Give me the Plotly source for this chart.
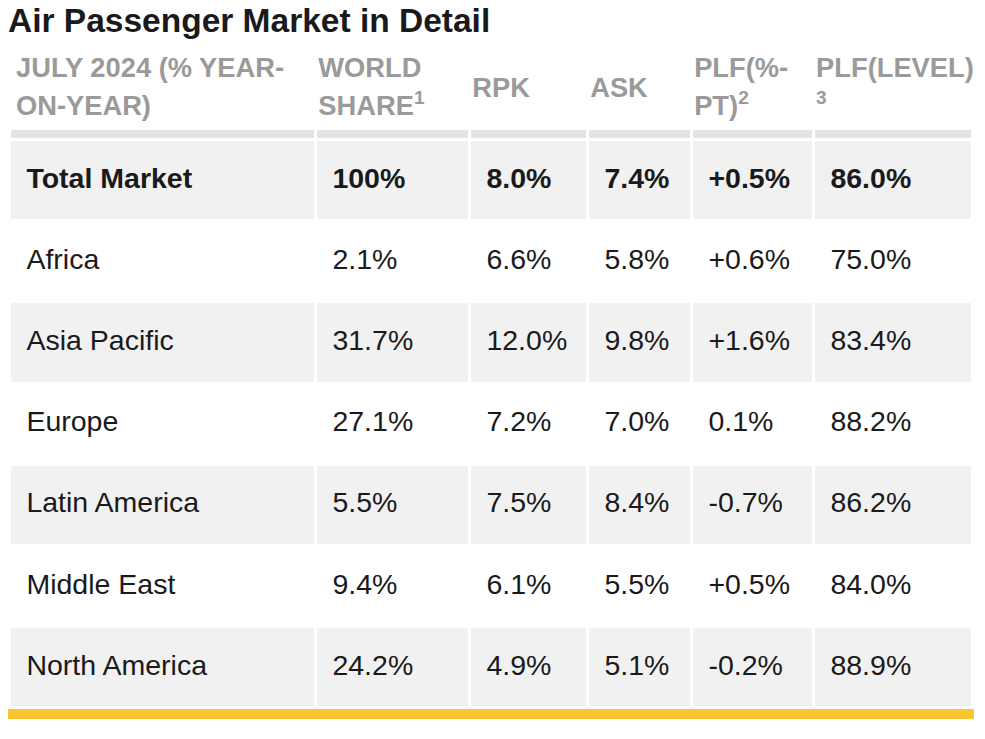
import plotly.graph_objects as go

# ---- data ----
regions = ["Total Market", "Africa", "Asia Pacific", "Europe", "Latin America", "Middle East", "North America"]
world_share = ["100%", "2.1%", "31.7%", "27.1%", "5.5%", "9.4%", "24.2%"]
rpk = ["8.0%", "6.6%", "12.0%", "7.2%", "7.5%", "6.1%", "4.9%"]
ask = ["7.4%", "5.8%", "9.8%", "7.0%", "8.4%", "5.5%", "5.1%"]
plf_pt = ["+0.5%", "+0.6%", "+1.6%", "0.1%", "-0.7%", "+0.5%", "-0.2%"]
plf_level = ["86.0%", "75.0%", "83.4%", "88.2%", "86.2%", "84.0%", "88.9%"]
headers = [
    "JULY 2024 (% YEAR-<br>ON-YEAR)",
    "WORLD<br>SHARE<sup>1</sup>",
    "RPK",
    "ASK",
    "PLF(%-<br>PT)<sup>2</sup>",
    "PLF(LEVEL)<br><sup>3</sup>",
]
title = "Air Passenger Market in Detail"

W, H = 985, 739
OFF = 8  # page body margin
FONT = "Liberation Sans, Arial, sans-serif"
TEXT = "#1a1a1a"
HEAD = "#9a9a9a"
GRAY = "#f1f1f1"
BAND = "#e3e3e3"
YELLOW = "#f9c630"

BODY_SIZE = 28.5
HEAD_SIZE = 27.3

colwidths = [306, 154, 118, 104, 122, 159]
head_colwidths = [302.5, 154, 118, 104, 122, 170]

def px(p):
    return max(0.0, (p - OFF) / W)

def py(p):
    return 1 - (p - OFF) / H

def spacer(sz):
    return f"<span style='font-size:{sz}px'>\u00a0</span><br>"

columns = [regions, world_share, rpk, ask, plf_pt, plf_level]
n = len(regions)
strut = "<span style='font-size:44.5px'>\u2009</span>"
cell_vals = []
for ci, col in enumerate(columns):
    vals = []
    for ri, v in enumerate(col):
        t = f"<b>{v}</b>" if ri == 0 else v
        vals.append(strut + t + "<br>")
    cell_vals.append(vals)

fills = [[GRAY if ri % 2 == 0 else "white" for ri in range(n)] for _ in columns]

# header labels: multi-line with wider line spacing via base font size
head_vals = []
head_sizes = []
for h in headers:
    if "<br>" in h:
        head_vals.append("<br>".join(f"<span style='font-size:{HEAD_SIZE}px'>{p}</span>" for p in h.split("<br>")))
        head_sizes.append(29.6)
    else:
        head_vals.append(spacer(11.3) + h)
        head_sizes.append(HEAD_SIZE)

fig = go.Figure()

# body table (drawn first)
fig.add_trace(go.Table(
    domain=dict(x=[px(9.5), px(9.5 + sum(colwidths))], y=[py(712), py(128.5)]),
    columnwidth=colwidths,
    header=dict(values=["" for _ in headers], fill_color=BAND, line=dict(color="white", width=3),
                height=11, font=dict(size=10)),
    cells=dict(values=cell_vals, fill_color=fills, line=dict(color="white", width=3),
               align="left", height=81.2,
               font=dict(family=FONT, size=BODY_SIZE, color=TEXT)),
))

# column labels
fig.add_trace(go.Table(
    domain=dict(x=[px(8), px(8 + sum(head_colwidths))], y=[py(130), py(44)]),
    columnwidth=head_colwidths,
    header=dict(values=head_vals, fill_color="white", line=dict(color="white", width=0),
                align="left", height=80,
                font=dict(family=FONT, size=head_sizes, color=HEAD, weight="bold")),
    cells=dict(values=[[""] for _ in headers], fill_color="white", line=dict(color="white", width=0),
               height=1, font=dict(size=1)),
))

fig.add_shape(type="rect", xref="paper", yref="paper", x0=px(8), x1=px(974),
              y0=py(719), y1=py(709), fillcolor=YELLOW, line=dict(width=0), layer="below")

fig.update_layout(
    width=W, height=H, margin=dict(l=0, r=0, t=0, b=0),
    paper_bgcolor="white", plot_bgcolor="white",
    title=dict(text=f"<b>{title}</b>", x=px(8), xanchor="left", xref="container",
               y=1 - 1 / H, yanchor="top", yref="container",
               font=dict(family=FONT, size=33.5, color=TEXT)),
)

fig.write_html("out.html")
